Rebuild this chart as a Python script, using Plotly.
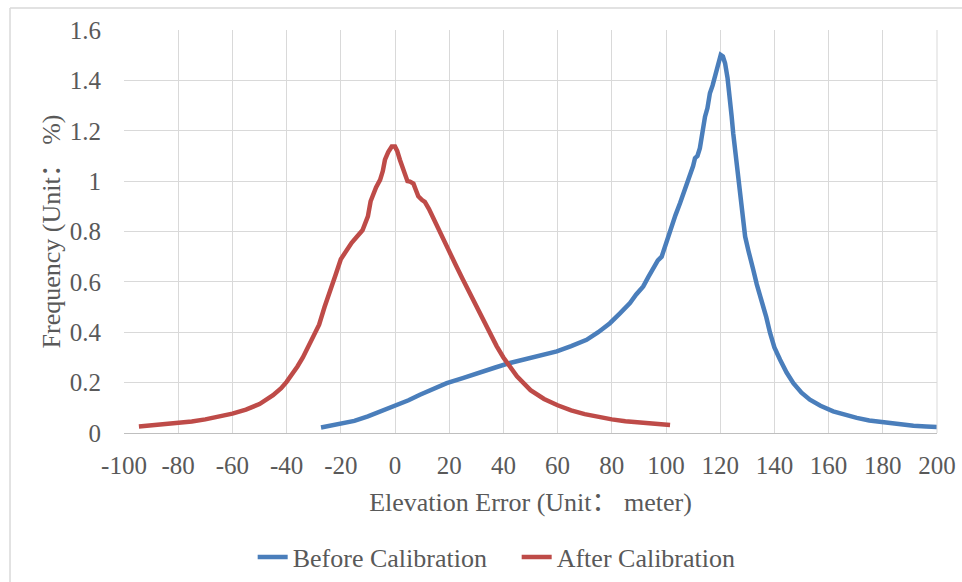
import plotly.graph_objects as go

# Before Calibration
before_x = [-27.3, -25, -20, -17.8, -15, -10, -5, 0, 5, 9.2, 15, 19.1, 25, 31.4, 37, 42.4, 50, 55,
            59.7, 65, 70.7, 75, 79.3, 83, 86.7, 89, 91.6, 93.5, 95.3, 97, 98.4, 100, 102.1, 103.5,
            105.2, 107, 108.9, 110, 110.7, 111.6, 112.5, 113.4, 114.4, 115.3, 116.2, 117.2, 118.1,
            119.2, 120.2, 121, 121.8, 122.7, 123.6, 124.2, 124.8, 125.5, 126.1, 127, 127.9, 128.6,
            129.2, 130.5, 131.6, 132.2, 133.5, 135.3, 137, 138.4, 140, 142.1, 144.5, 147, 150,
            153.1, 157, 161.7, 166, 170.4, 175, 180.2, 185, 191.3, 196, 200]
before_y = [0.022, 0.027, 0.036, 0.04, 0.048, 0.066, 0.086, 0.108, 0.13, 0.152, 0.178, 0.198, 0.218,
            0.238, 0.26, 0.278, 0.298, 0.31, 0.324, 0.345, 0.37, 0.40, 0.436, 0.475, 0.516, 0.55,
            0.582, 0.62, 0.655, 0.685, 0.70, 0.755, 0.82, 0.865, 0.913, 0.965, 1.018, 1.06, 1.091,
            1.10, 1.131, 1.20, 1.256, 1.29, 1.349, 1.38, 1.415, 1.46, 1.501, 1.495, 1.468, 1.41,
            1.336, 1.26, 1.19, 1.12, 1.058, 0.975, 0.899, 0.83, 0.78, 0.72, 0.661, 0.648, 0.59,
            0.53, 0.46, 0.397, 0.34, 0.291, 0.24, 0.198, 0.16, 0.132, 0.108, 0.086, 0.072, 0.06,
            0.05, 0.042, 0.035, 0.029, 0.026, 0.024]

# After Calibration
after_x = [-94.5, -90, -85, -80, -75, -70, -65, -60, -55, -50, -45, -42, -40, -38, -36, -34, -32,
           -30, -28, -26, -24, -22, -20, -18, -16, -14, -12, -10, -9, -7, -5.5, -4.5, -3.7, -2.5,
           -1.2, 0, 0.8, 1.8, 2.8, 3.7, 4.6, 5.5, 6.8, 7.7, 8.6, 10, 11, 12.5, 14, 15.5, 17, 20,
           22.5, 25, 27.5, 30, 32.5, 35, 37.5, 40, 42.5, 45, 50, 55, 60, 65, 70, 75, 80, 85, 90,
           95, 101.5]
after_y = [0.026, 0.030, 0.035, 0.040, 0.046, 0.054, 0.064, 0.077, 0.093, 0.115, 0.150, 0.178,
           0.203, 0.232, 0.264, 0.300, 0.345, 0.385, 0.43, 0.50, 0.57, 0.625, 0.69, 0.725, 0.755,
           0.78, 0.805, 0.86, 0.92, 0.975, 1.005, 1.04, 1.085, 1.115, 1.137, 1.137, 1.12, 1.085,
           1.05, 1.03, 1.0, 0.998, 0.99, 0.965, 0.94, 0.925, 0.918, 0.89, 0.855, 0.825, 0.79,
           0.72, 0.665, 0.61, 0.555, 0.50, 0.445, 0.395, 0.345, 0.30, 0.262, 0.225, 0.17, 0.135,
           0.11, 0.09, 0.075, 0.064, 0.054, 0.047, 0.042, 0.037, 0.032]

x_tickvals = [-100, -80, -60, -40, -20, 0, 20, 40, 60, 80, 100, 120, 140, 160, 180, 200]
x_ticktext = ["-100", "-80", "-60", "-40", "-20", "0", "20", "40", "60", "80", "100", "120",
              "140", "160", "180", "200"]
y_tickvals = [0, 0.2, 0.4, 0.6, 0.8, 1.0, 1.2, 1.4, 1.6]
y_ticktext = ["0", "0.2", "0.4", "0.6", "0.8", "1", "1.2", "1.4", "1.6"]

FONT = "Liberation Serif, Times New Roman, Noto Sans CJK SC, serif"
TXT = "#595959"

fig = go.Figure()
fig.add_trace(go.Scatter(x=before_x, y=before_y, mode="lines", name="Before Calibration",
                         line=dict(color="#4A7EBB", width=4.5)))
fig.add_trace(go.Scatter(x=after_x, y=after_y, mode="lines", name="After Calibration",
                         line=dict(color="#BE4B48", width=4.5)))

fig.update_layout(
    width=962, height=582,
    margin=dict(l=124, r=25, t=30, b=149, autoexpand=False),
    paper_bgcolor="white", plot_bgcolor="white",
    font=dict(family=FONT, size=26, color=TXT),
    showlegend=True,
    legend=dict(orientation="h", x=0.483, xanchor="center", y=-0.308, yanchor="middle",
                font=dict(family=FONT, size=26, color=TXT), itemwidth=30,
                entrywidth=219, bgcolor="rgba(0,0,0,0)"),
    xaxis=dict(range=[-100, 200], tickvals=x_tickvals, ticktext=x_ticktext,
               showgrid=True, gridcolor="#D9D9D9", gridwidth=1, automargin=False,
               zeroline=False, showline=True, linecolor="#BFBFBF", linewidth=1,
               ticks="", ticklabelstandoff=10, tickfont=dict(size=25),
               title=dict(text="Elevation Error (Unit： meter)", standoff=14,
                          font=dict(family=FONT, size=26, color=TXT))),
    yaxis=dict(range=[0, 1.6], tickvals=y_tickvals, ticktext=y_ticktext,
               showgrid=True, gridcolor="#D9D9D9", gridwidth=1, automargin=False,
               zeroline=False, showline=False, ticks="", ticklabelstandoff=22,
               tickfont=dict(size=25),
               title=dict(text="Frequency (Unit： %)", standoff=1,
                          font=dict(family=FONT, size=26, color=TXT))),
    shapes=[
        dict(type="line", xref="paper", yref="paper", x0=1, x1=1, y0=0, y1=1,
             line=dict(color="#D9D9D9", width=1)),
        dict(type="line", xref="paper", yref="paper", x0=-0.1402, x1=-0.1402, y0=-0.5, y1=1.0546,
             line=dict(color="#D9D9D9", width=1.5)),
        dict(type="line", xref="paper", yref="paper", x0=-0.1402, x1=1.1, y0=1.0546, y1=1.0546,
             line=dict(color="#D9D9D9", width=1.5)),
    ],
)

fig.write_html("out.html", config={"displayModeBar": False},
               post_script="document.body.style.margin='0';document.body.style.overflow='hidden';")
